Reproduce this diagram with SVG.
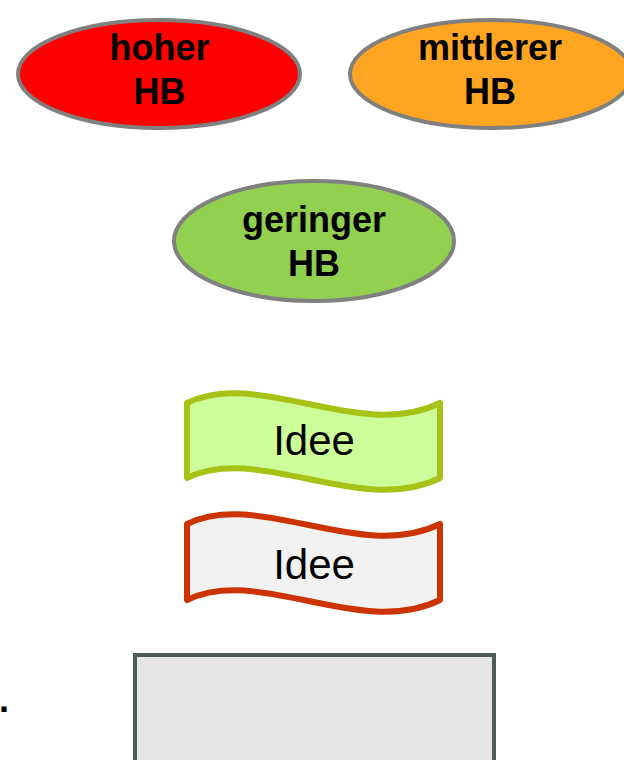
<svg xmlns="http://www.w3.org/2000/svg" width="624" height="760" viewBox="0 0 624 760">
<style>
.ell{stroke:#808080;stroke-width:4}
.bt{font-family:"Liberation Sans",Arial,sans-serif;font-weight:bold;font-size:36px;text-anchor:middle;fill:#000}
.it{font-family:"Liberation Sans",Arial,sans-serif;font-size:42px;text-anchor:middle;fill:#000}
.tape{stroke-width:6;stroke-linejoin:round}
</style>
<rect width="624" height="760" fill="#fff"/>
<g id="hoher">
<ellipse class="ell" cx="159" cy="74" rx="141" ry="54" fill="#ff0000"/>
<text class="bt" x="159.5" y="60">hoher</text>
<text class="bt" x="159.5" y="104">HB</text>
</g>
<g id="mittlerer">
<ellipse class="ell" cx="491" cy="74" rx="141" ry="54" fill="#ffa521"/>
<text class="bt" x="490" y="60">mittlerer</text>
<text class="bt" x="490" y="104">HB</text>
</g>
<g id="geringer">
<ellipse class="ell" cx="314" cy="241" rx="140" ry="60" fill="#92d050"/>
<text class="bt" x="314" y="232">geringer</text>
<text class="bt" x="314" y="276">HB</text>
</g>
<g id="idee1">
<path class="tape" d="M187,403 C260,368 360,442 440,403 L440,478 C360,517 260,443 187,478 Z" fill="#ccff99" stroke="#a8c116"/>
<text class="it" x="314" y="455">Idee</text>
</g>
<g id="idee2">
<path class="tape" d="M187,524 C260,489 360,563 440,524 L440,600 C360,639 260,565 187,600 Z" fill="#f2f2f2" stroke="#cc3300"/>
<text class="it" x="314" y="579">Idee</text>
</g>
<g id="box">
<rect x="135" y="655" width="359" height="120" fill="#e6e6e6" stroke="#4d5b5b" stroke-width="4"/>
</g>
<text x="-1" y="712" font-family="Liberation Sans, Arial, sans-serif" font-weight="bold" font-size="36">.</text>
<g id="connectors"/>
</svg>
